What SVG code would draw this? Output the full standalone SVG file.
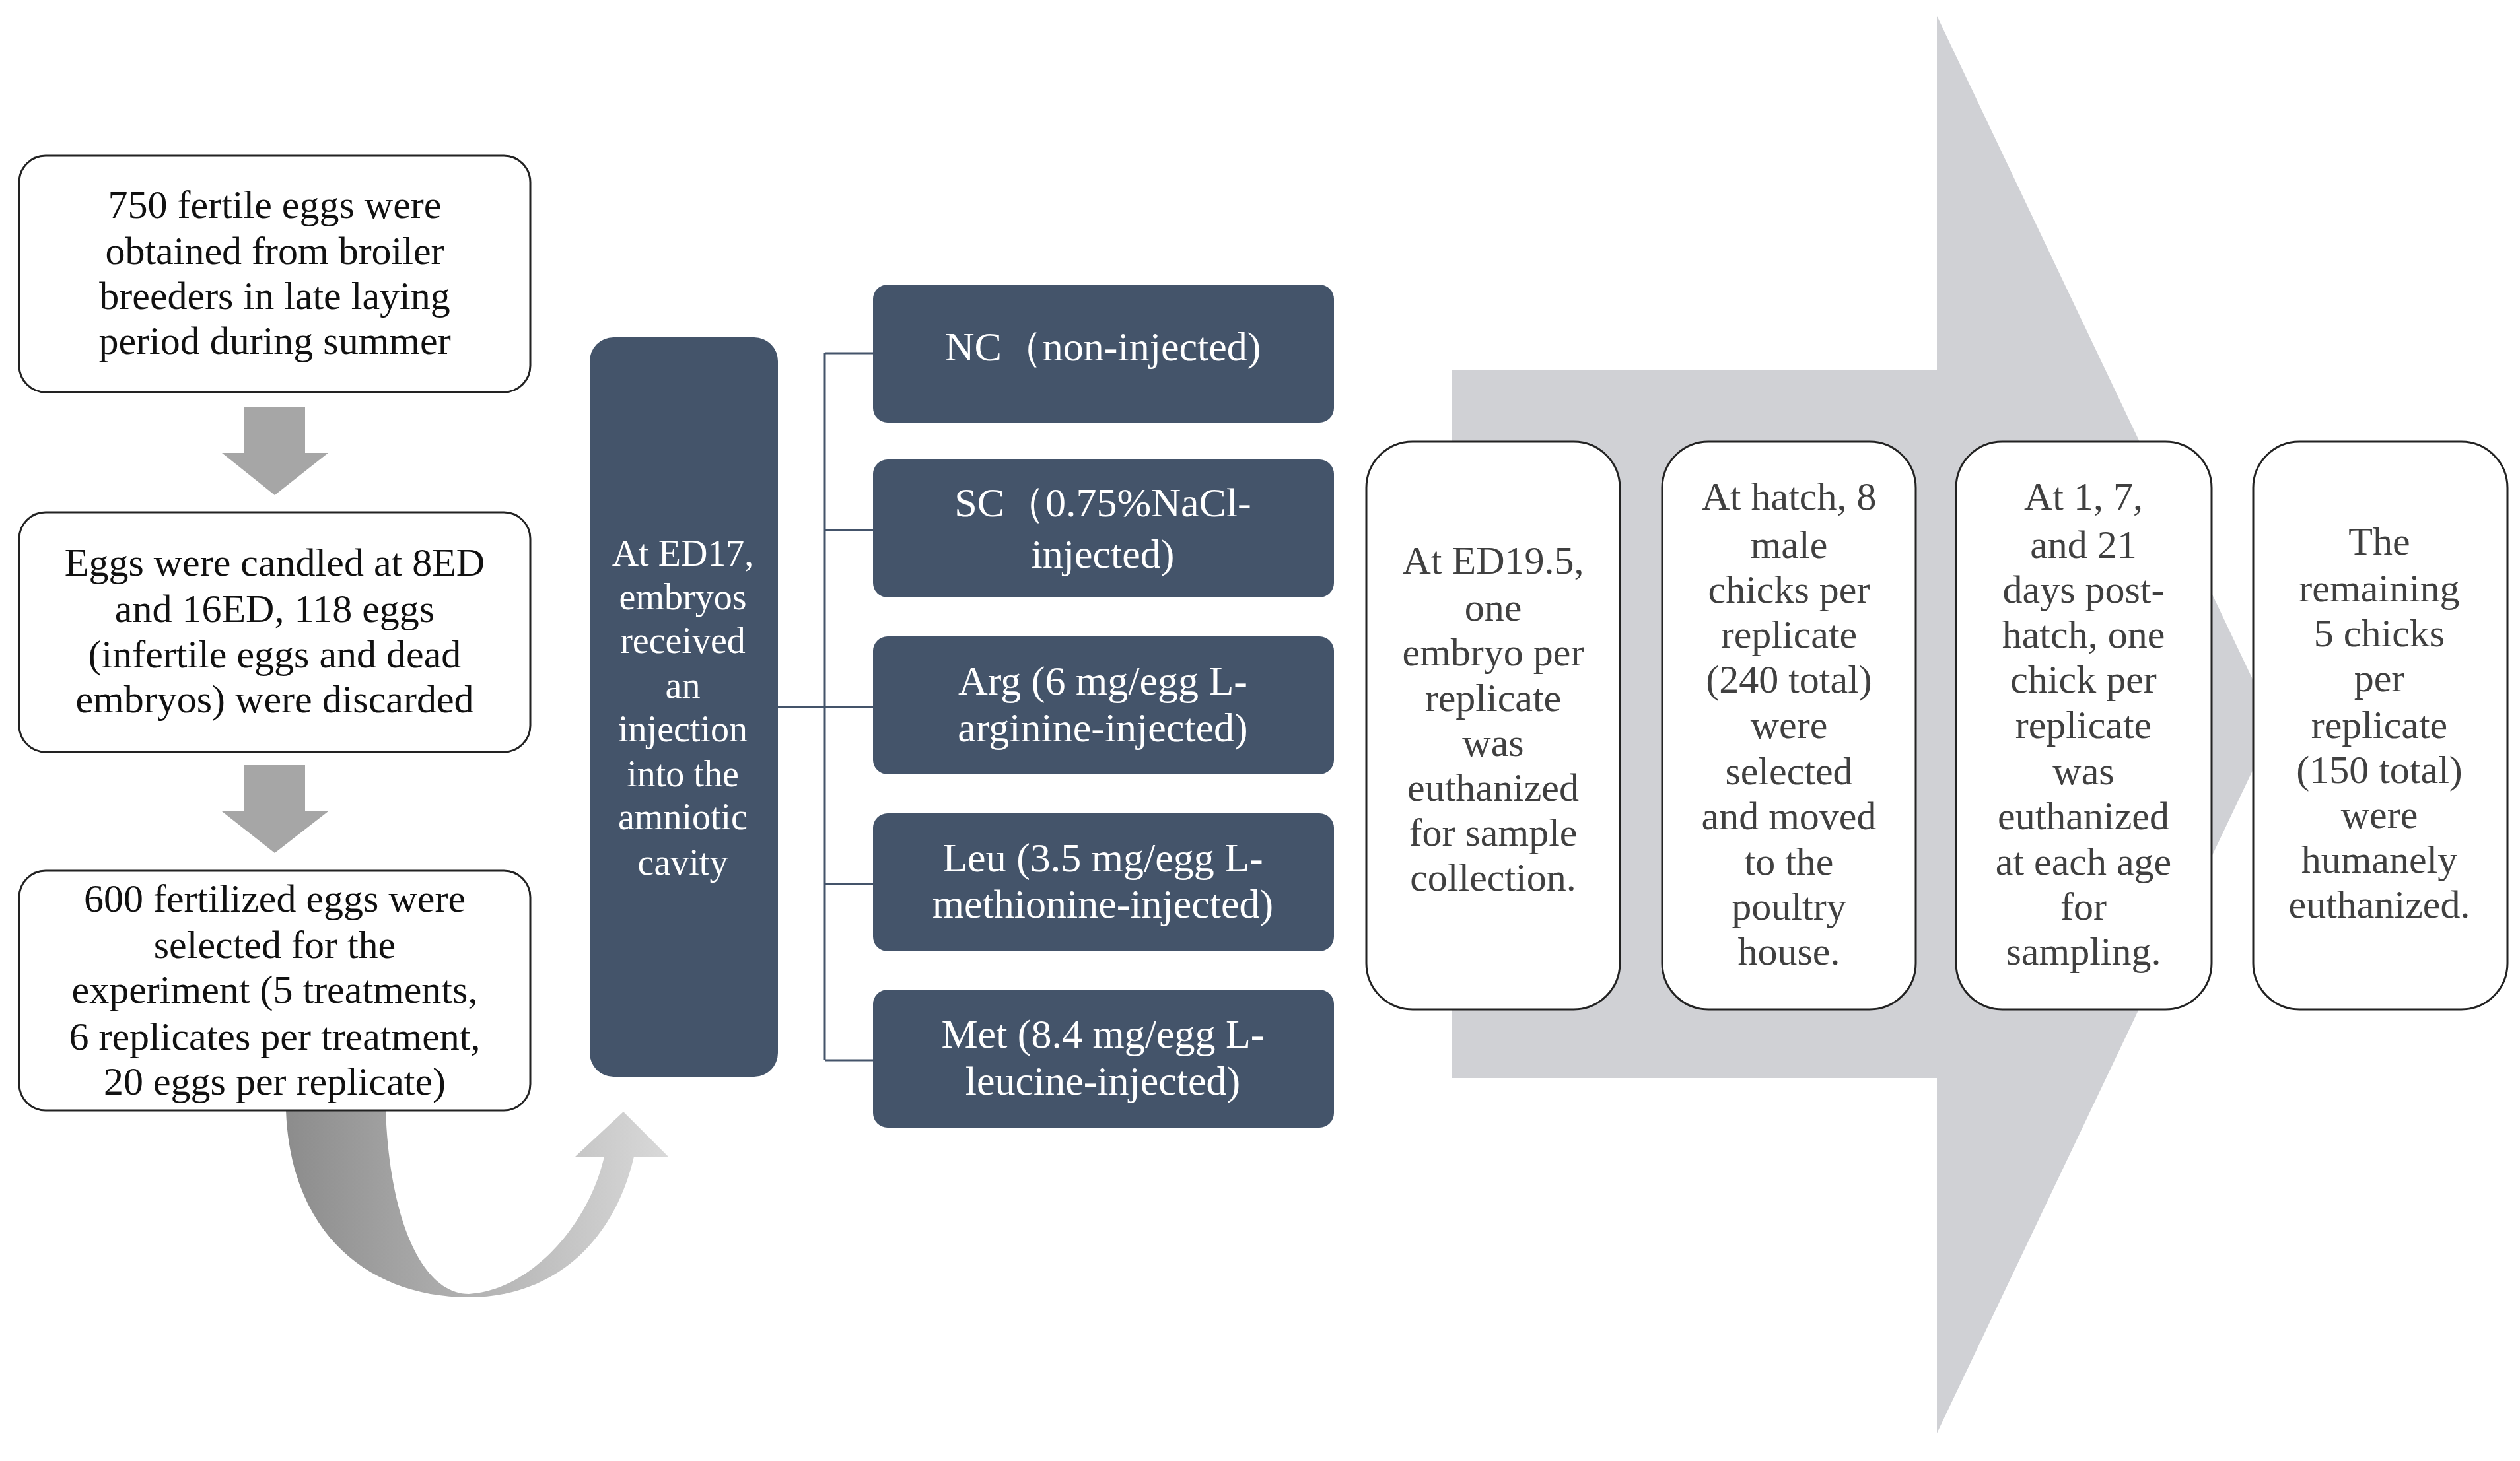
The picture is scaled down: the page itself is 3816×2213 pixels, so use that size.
<svg xmlns="http://www.w3.org/2000/svg" width="3816" height="2213" viewBox="0 0 3816 2213">
<style>
.wb{fill:#fff;stroke:#222;stroke-width:3}
.db{fill:#44546a}
.t{font-family:"Liberation Serif",serif;font-size:60px;fill:#111;text-anchor:middle}
.tw{font-family:"Liberation Serif",serif;font-size:62px;fill:#fff;text-anchor:middle}
.ts{font-family:"Liberation Serif",serif;font-size:56px;fill:#fff;text-anchor:middle}
.tg{font-family:"Liberation Serif",serif;font-size:60px;fill:#404040;text-anchor:middle}
.ln{stroke:#44546a;stroke-width:3;fill:none}
</style>
<defs>
<linearGradient id="cg" x1="0" y1="0" x2="1" y2="0">
<stop offset="0" stop-color="#8c8c8c"/><stop offset="1" stop-color="#d9d9d9"/>
</linearGradient>
</defs>
<g id="bigarrow"><polygon points="2198,560 2933,560 2933,24 3444,1098 2933,2171 2933,1633 2198,1633" fill="#d0d1d5"/></g>
<g id="connectors">
<polygon points="370,616 462,616 462,686 497,686 416,750 336,686 370,686" fill="#a6a6a6"/>
<polygon points="370,1159 462,1159 462,1229 497,1229 416,1292 336,1229 370,1229" fill="#a6a6a6"/>
<path d="M433,1682 C440,1870 560,1965 710,1965 C840,1965 930,1880 960,1752 L1012,1752 L944,1684 L871,1752 L915,1752 C890,1860 800,1955 710,1960 C640,1960 590,1850 584,1682 Z" fill="url(#cg)"/>
<path class="ln" d="M1178,1071 H1249 M1249,535 V1606 M1249,535 H1322 M1249,803 H1322 M1249,1071 H1322 M1249,1339 H1322 M1249,1606 H1322"/>
</g>
<g id="n1"><rect class="wb" x="29" y="236" width="774" height="358" rx="40"/>
<text class="t"><tspan x="416" y="330">750 fertile eggs were</tspan><tspan x="416" y="400">obtained from broiler</tspan><tspan x="416" y="468">breeders in late laying</tspan><tspan x="416" y="536">period during summer</tspan></text></g>
<g id="n2"><rect class="wb" x="29" y="776" width="774" height="363" rx="40"/>
<text class="t"><tspan x="416" y="872">Eggs were candled at 8ED</tspan><tspan x="416" y="942">and 16ED, 118 eggs</tspan><tspan x="416" y="1011">(infertile eggs and dead</tspan><tspan x="416" y="1079">embryos) were discarded</tspan></text></g>
<g id="n3"><rect class="wb" x="29" y="1319" width="774" height="363" rx="40"/>
<text class="t"><tspan x="416" y="1381">600 fertilized eggs were</tspan><tspan x="416" y="1451">selected for the</tspan><tspan x="416" y="1519">experiment (5 treatments,</tspan><tspan x="416" y="1590">6 replicates per treatment,</tspan><tspan x="416" y="1658">20 eggs per replicate)</tspan></text></g>
<g id="n4"><rect class="db" x="893" y="511" width="285" height="1120" rx="36"/>
<text class="ts"><tspan x="1034" y="857">At ED17,</tspan><tspan x="1034" y="923">embryos</tspan><tspan x="1034" y="989">received</tspan><tspan x="1034" y="1057">an</tspan><tspan x="1034" y="1123">injection</tspan><tspan x="1034" y="1191">into the</tspan><tspan x="1034" y="1256">amniotic</tspan><tspan x="1034" y="1325">cavity</tspan></text></g>
<g id="t1"><rect class="db" x="1322" y="431" width="698" height="209" rx="22"/><text class="tw"><tspan x="1670" y="546">NC（non-injected)</tspan></text></g>
<g id="t2"><rect class="db" x="1322" y="696" width="698" height="209" rx="22"/><text class="tw"><tspan x="1670" y="782">SC（0.75%NaCl-</tspan><tspan x="1670" y="860">injected)</tspan></text></g>
<g id="t3"><rect class="db" x="1322" y="964" width="698" height="209" rx="22"/><text class="tw"><tspan x="1670" y="1052">Arg (6 mg/egg L-</tspan><tspan x="1670" y="1123">arginine-injected)</tspan></text></g>
<g id="t4"><rect class="db" x="1322" y="1232" width="698" height="209" rx="22"/><text class="tw"><tspan x="1670" y="1320">Leu (3.5 mg/egg L-</tspan><tspan x="1670" y="1390">methionine-injected)</tspan></text></g>
<g id="t5"><rect class="db" x="1322" y="1499" width="698" height="209" rx="22"/><text class="tw"><tspan x="1670" y="1587">Met (8.4 mg/egg L-</tspan><tspan x="1670" y="1658">leucine-injected)</tspan></text></g>
<g id="s1"><rect class="wb" x="2069" y="669" width="384" height="860" rx="70"/>
<text class="tg"><tspan x="2261" y="869">At ED19.5,</tspan><tspan x="2261" y="940">one</tspan><tspan x="2261" y="1008">embryo per</tspan><tspan x="2261" y="1077">replicate</tspan><tspan x="2261" y="1145">was</tspan><tspan x="2261" y="1213">euthanized</tspan><tspan x="2261" y="1281">for sample</tspan><tspan x="2261" y="1349">collection.</tspan></text></g>
<g id="s2"><rect class="wb" x="2517" y="669" width="384" height="860" rx="70"/>
<text class="tg"><tspan x="2709" y="772">At hatch, 8</tspan><tspan x="2709" y="845">male</tspan><tspan x="2709" y="913">chicks per</tspan><tspan x="2709" y="981">replicate</tspan><tspan x="2709" y="1049">(240 total)</tspan><tspan x="2709" y="1118">were</tspan><tspan x="2709" y="1188">selected</tspan><tspan x="2709" y="1256">and moved</tspan><tspan x="2709" y="1325">to the</tspan><tspan x="2709" y="1393">poultry</tspan><tspan x="2709" y="1461">house.</tspan></text></g>
<g id="s3"><rect class="wb" x="2962" y="669" width="387" height="860" rx="70"/>
<text class="tg"><tspan x="3155" y="772">At 1, 7,</tspan><tspan x="3155" y="845">and 21</tspan><tspan x="3155" y="913">days post-</tspan><tspan x="3155" y="981">hatch, one</tspan><tspan x="3155" y="1049">chick per</tspan><tspan x="3155" y="1118">replicate</tspan><tspan x="3155" y="1188">was</tspan><tspan x="3155" y="1256">euthanized</tspan><tspan x="3155" y="1325">at each age</tspan><tspan x="3155" y="1393">for</tspan><tspan x="3155" y="1461">sampling.</tspan></text></g>
<g id="s4"><rect class="wb" x="3412" y="669" width="385" height="860" rx="70"/>
<text class="tg"><tspan x="3603" y="840">The</tspan><tspan x="3603" y="911">remaining</tspan><tspan x="3603" y="979">5 chicks</tspan><tspan x="3603" y="1047">per</tspan><tspan x="3603" y="1118">replicate</tspan><tspan x="3603" y="1186">(150 total)</tspan><tspan x="3603" y="1254">were</tspan><tspan x="3603" y="1322">humanely</tspan><tspan x="3603" y="1390">euthanized.</tspan></text></g>
</svg>
